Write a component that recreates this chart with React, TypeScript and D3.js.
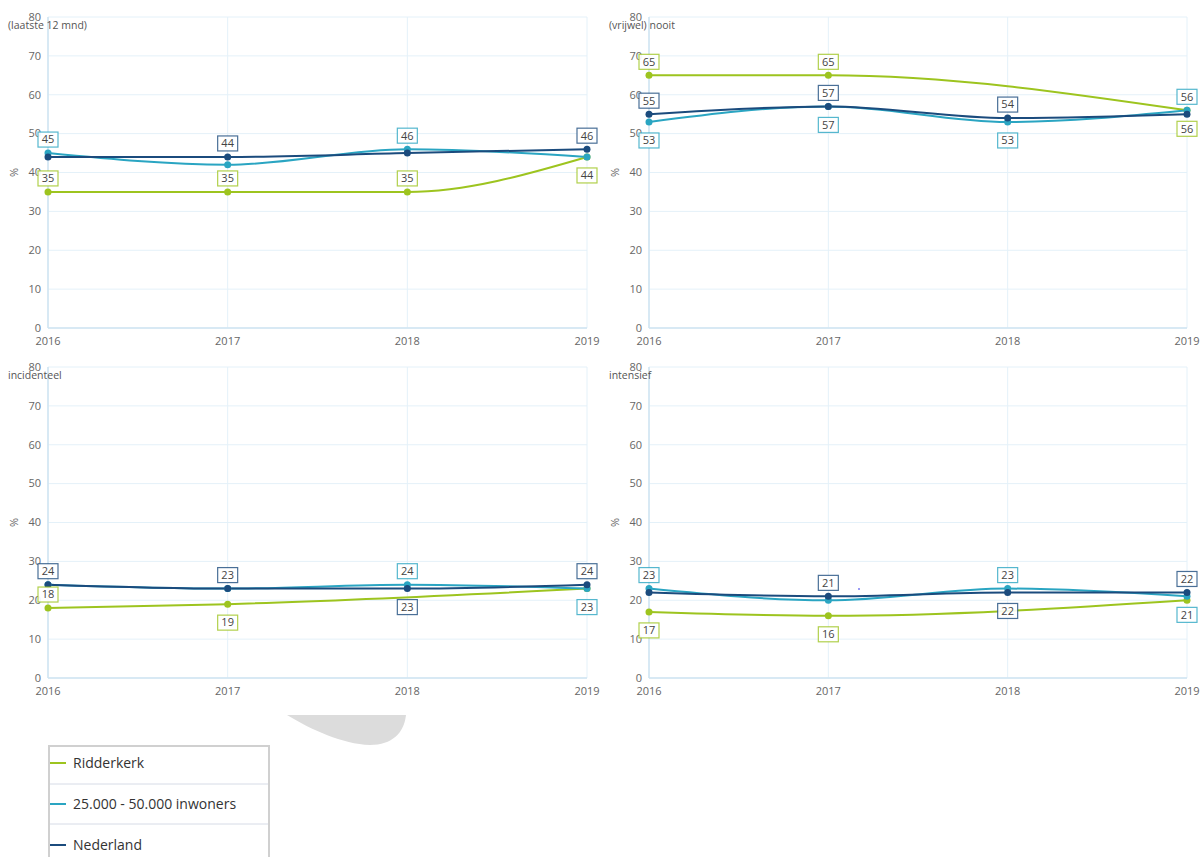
import React from "react";
import * as d3 from "d3";

// ---------- data ----------
const years = [2016, 2017, 2018, 2019];
const yTicks = [0, 10, 20, 30, 40, 50, 60, 70, 80];
const seriesNames = ["Ridderkerk", "25.000 - 50.000 inwoners", "Nederland"];
const seriesColors = ["#9dc41f", "#2aa5c2", "#1b4b7d"];
const panelTitles = ["(laatste 12 mnd)", "(vrijwel) nooit", "incidenteel", "intensief"];

const laatsteRidderkerk = [35, 35, 35, 44];
const laatsteKlasse = [45, 42, 46, 44];
const laatsteNederland = [44, 44, 45, 46];

const nooitRidderkerk = [65, 65, null, 56];
const nooitKlasse = [53, 57, 53, 56];
const nooitNederland = [55, 57, 54, 55];

const incidRidderkerk = [18, 19, null, 23];
const incidKlasse = [24, 23, 24, 23];
const incidNederland = [24, 23, 23, 24];

const intensRidderkerk = [17, 16, null, 20];
const intensKlasse = [23, 20, 23, 21];
const intensNederland = [22, 21, 22, 22];

// data label placement: a = above, b = below, "" = hidden (overlap)
const labelPlacement = [
  [["a", "a", "a", "b"], ["a", "", "a", ""], ["", "a", "", "a"]],
  [["a", "a", "", "b"], ["b", "b", "b", "a"], ["a", "a", "a", ""]],
  [["a", "b", "", ""], ["", "", "a", "b"], ["a", "a", "b", "a"]],
  [["b", "b", "", ""], ["a", "", "a", "b"], ["", "a", "b", "a"]],
];

const panelData = [
  [laatsteRidderkerk, laatsteKlasse, laatsteNederland],
  [nooitRidderkerk, nooitKlasse, nooitNederland],
  [incidRidderkerk, incidKlasse, incidNederland],
  [intensRidderkerk, intensKlasse, intensNederland],
];

// ---------- layout ----------
const W = 1203;
const H = 857;
const colX = [
  [48, 587],
  [649, 1187],
];
const rowY = [
  [17, 328],
  [367, 678],
];
const FONT = "'Open Sans', 'Noto Sans', sans-serif";
const GRID = "#e4f1f9";
const AXIS = "#cfe4f2";

function Panel({ idx }: { idx: number }) {
  const [x0, x1] = colX[idx % 2];
  const [y0, y1] = rowY[Math.floor(idx / 2)];
  const x = d3.scaleLinear().domain([2016, 2019]).range([x0, x1]);
  const y = d3.scaleLinear().domain([0, 80]).range([y1, y0]);
  const data = panelData[idx];

  const line = d3
    .line<{ yr: number; v: number }>()
    .x((d) => x(d.yr))
    .y((d) => y(d.v))
    .curve(d3.curveMonotoneX);

  const pts = data.map((vals) =>
    years
      .map((yr, i) => ({ yr, v: vals[i] as number | null, i }))
      .filter((d) => d.v !== null) as { yr: number; v: number; i: number }[]
  );

  return (
    <g>
      {/* grid */}
      {yTicks.map((t) => (
        <line key={"h" + t} x1={x0} x2={x1} y1={y(t)} y2={y(t)} stroke={GRID} strokeWidth={1} />
      ))}
      {years.map((yr) => (
        <line key={"v" + yr} x1={x(yr)} x2={x(yr)} y1={y0} y2={y1} stroke={GRID} strokeWidth={1} />
      ))}
      <line x1={x0} x2={x0} y1={y0} y2={y1} stroke={AXIS} strokeWidth={1.5} />
      <line x1={x0} x2={x1} y1={y1} y2={y1} stroke={AXIS} strokeWidth={1.5} />

      {/* y tick labels */}
      {yTicks.map((t) => (
        <text
          key={"yt" + t}
          x={x0 - 7}
          y={y(t)}
          dy="0.35em"
          textAnchor="end"
          fontSize={11}
          fill="#666"
          fontFamily={FONT}
        >
          {t}
        </text>
      ))}
      {/* x tick labels */}
      {years.map((yr) => (
        <text
          key={"xt" + yr}
          x={x(yr)}
          y={y1 + 13}
          dy="0.35em"
          textAnchor="middle"
          fontSize={11}
          fill="#666"
          fontFamily={FONT}
        >
          {yr}
        </text>
      ))}
      {/* y axis title */}
      <text
        transform={`translate(${x0 - 34},${(y0 + y1) / 2}) rotate(-90)`}
        textAnchor="middle"
        dy="0.35em"
        fontSize={11}
        fill="#666"
        fontFamily={FONT}
      >
        %
      </text>
      {/* panel title */}
      <text x={x0 - 40} y={y0 + 8} dy="0.35em" fontSize={10.5} fill="#555" fontFamily={FONT}>
        {panelTitles[idx]}
      </text>

      {/* lines */}
      {pts.map((p, s) => (
        <path key={"l" + s} d={line(p) || ""} fill="none" stroke={seriesColors[s]} strokeWidth={2} />
      ))}
      {/* markers */}
      {pts.map((p, s) =>
        p.map((d) => (
          <circle key={"m" + s + d.yr} cx={x(d.yr)} cy={y(d.v)} r={3.5} fill={seriesColors[s]} />
        ))
      )}
      {/* data labels */}
      {pts.map((p, s) =>
        p.map((d) => {
          const pl = labelPlacement[idx][s][d.i];
          if (!pl) return null;
          const cx = x(d.yr);
          const bh = 15;
          const bw = 20;
          const top = pl === "a" ? y(d.v) - 6 - bh : y(d.v) + 11;
          return (
            <g key={"dl" + s + d.yr}>
              <rect
                x={cx - bw / 2}
                y={top}
                width={bw}
                height={bh}
                fill="#fff"
                fillOpacity={0.9}
                stroke={seriesColors[s]}
                strokeOpacity={0.8}
                strokeWidth={1.2}
              />
              <text
                x={cx}
                y={top + bh / 2}
                dy="0.35em"
                textAnchor="middle"
                fontSize={11}
                fill="#444"
                fontFamily={FONT}
              >
                {d.v}
              </text>
            </g>
          );
        })
      )}
    </g>
  );
}

export default function App() {
  const rows = [763, 804, 845];
  return (
    <svg
      width={W}
      height={H}
      style={{ position: "absolute", left: 0, top: 0, display: "block", background: "#fff" }}
    >
      <rect x={0} y={0} width={W} height={H} fill="#fff" />
      {[0, 1, 2, 3].map((i) => (
        <Panel key={i} idx={i} />
      ))}
      {/* stray artefacts visible in the reference */}
      <path d="M287,715 L406,715 C404,733 392,745 370,745 C342,744 312,730 287,715 Z" fill="#dcdcdc" />
      <circle cx={859} cy={589} r={1} fill="#7a7af0" />

      {/* legend */}
      <rect x={49} y={746} width={220} height={130} fill="#fff" stroke="#d0d0d0" strokeWidth={2} />
      <line x1={50} x2={268} y1={784} y2={784} stroke="#d6dbe6" strokeWidth={1} />
      <line x1={50} x2={268} y1={824} y2={824} stroke="#d6dbe6" strokeWidth={1} />
      {seriesNames.map((n, i) => (
        <g key={n}>
          <line x1={50} x2={66} y1={rows[i]} y2={rows[i]} stroke={seriesColors[i]} strokeWidth={2} />
          <text x={73} y={rows[i]} dy="0.35em" fontSize={14} fill="#333" fontFamily={FONT}>
            {n}
          </text>
        </g>
      ))}
    </svg>
  );
}
